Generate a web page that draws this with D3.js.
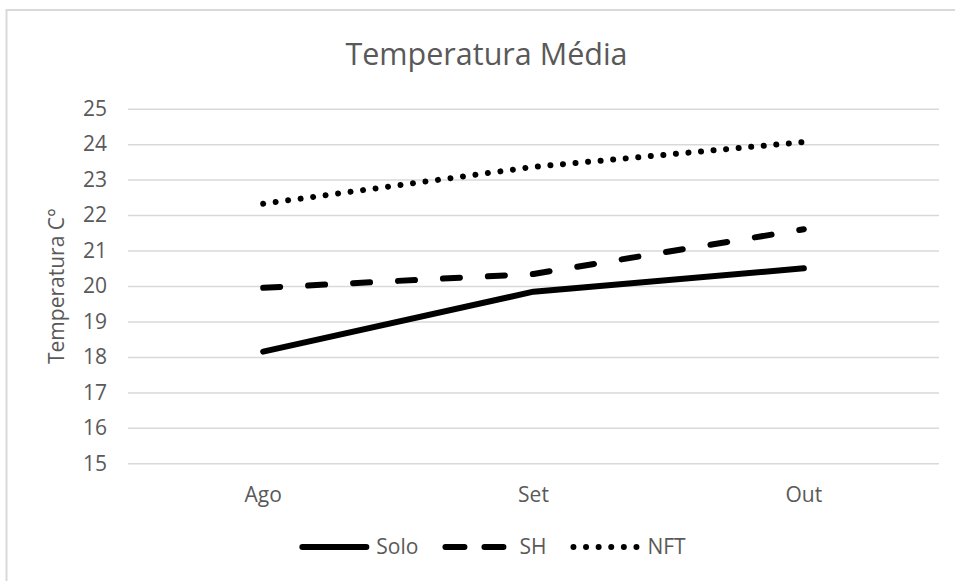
<!DOCTYPE html>
<html>
<head>
<meta charset="utf-8">
<script src="https://cdn.jsdelivr.net/npm/d3@7"></script>
<style>
  html, body { margin: 0; padding: 0; background: #fff; }
  svg { display: block; }
  text { font-family: "Open Sans", "Noto Sans", sans-serif; fill: #595959; }
</style>
</head>
<body>
<svg id="chart" width="955" height="581"></svg>
<script>
// ---- data ----
const categories = ["Ago", "Set", "Out"];
const soloValues = [18.15, 19.84, 20.5];
const shValues   = [19.95, 20.34, 21.6];
const nftValues  = [22.32, 23.36, 24.06];
const yTicks = [15, 16, 17, 18, 19, 20, 21, 22, 23, 24, 25];
const seriesNames = ["Solo", "SH", "NFT"];
const chartTitle = "Temperatura Média";
const yAxisTitle = "Temperatura C°";

const series = [
  { name: seriesNames[0], values: soloValues, dash: null },
  { name: seriesNames[1], values: shValues,   dash: "17 28" },
  { name: seriesNames[2], values: nftValues,  dash: "0.001 12.6" }
];

const svg = d3.select("#chart");
const W = 955, H = 581;
const plot = { left: 128, right: 939, top: 108.7, bottom: 463.3 };

// chart border (extends past right/bottom edges like the reference)
svg.append("rect")
  .attr("x", 6.5).attr("y", 10)
  .attr("width", W + 20).attr("height", H + 20)
  .attr("fill", "#fff")
  .attr("stroke", "#d9d9d9").attr("stroke-width", 2);

const x = d3.scaleBand().domain(categories).range([plot.left, plot.right]).padding(0);
const y = d3.scaleLinear().domain([15, 25]).range([plot.bottom, plot.top]);
const cx = d => x(d) + x.bandwidth() / 2;

// gridlines + y tick labels via axis
const yAxis = d3.axisLeft(y).tickValues(yTicks).tickSize(-(plot.right - plot.left)).tickPadding(21).tickFormat(d3.format("d"));
const gy = svg.append("g").attr("transform", `translate(${plot.left},0)`).call(yAxis);
gy.select(".domain").remove();
gy.selectAll(".tick line").attr("stroke", "#d9d9d9").attr("stroke-width", 1.5);
gy.selectAll(".tick text").style("font-size", "21px").attr("fill", "#595959")
  .style("font-family", '"Open Sans", sans-serif');

// x axis labels
const xAxis = d3.axisBottom(x).tickSize(0).tickPadding(0);
const gx = svg.append("g").attr("transform", `translate(0,${plot.bottom})`).call(xAxis);
gx.select(".domain").remove();
gx.selectAll(".tick text").attr("dy", null).attr("y", 38.5)
  .style("font-size", "21px").attr("fill", "#595959")
  .style("font-family", '"Open Sans", sans-serif');

// lines
const line = d3.line().x((d, i) => cx(categories[i])).y(d => y(d));
series.forEach(s => {
  svg.append("path")
    .datum(s.values)
    .attr("d", line)
    .attr("fill", "none")
    .attr("stroke", "#000")
    .attr("stroke-width", 6)
    .attr("stroke-linecap", "round")
    .attr("stroke-linejoin", "round")
    .attr("stroke-dasharray", s.dash);
});

// title
svg.append("text")
  .attr("x", 486.5).attr("y", 65)
  .attr("text-anchor", "middle")
  .style("font-size", "30.5px")
  .text(chartTitle);

// y axis title
svg.append("text")
  .attr("transform", `translate(64,${(plot.top + plot.bottom) / 2}) rotate(-90)`)
  .attr("text-anchor", "middle")
  .style("font-size", "21px")
  .text(yAxisTitle);

// legend
const legendY = 547;
const lineLen = 70, textGap = 7, itemGap = 24;
const lg = svg.append("g");
let cur = 0;
const items = [];
series.forEach(s => {
  const g = lg.append("g");
  g.append("path")
    .attr("d", `M${cur + 3},${legendY}H${cur + lineLen - 3}`)
    .attr("stroke", "#000").attr("stroke-width", 6)
    .attr("stroke-linecap", "round")
    .attr("stroke-dasharray", s.name === "SH" ? "19 20" : s.dash);
  const t = g.append("text")
    .attr("x", cur + lineLen + textGap).attr("y", legendY)
    .attr("dy", "0.35em")
    .style("font-size", "21px")
    .text(s.name);
  cur += lineLen + textGap + t.node().getComputedTextLength() + itemGap;
});
const totalW = cur - itemGap;
lg.attr("transform", `translate(${492.5 - totalW / 2},0)`);
</script>
</body>
</html>
